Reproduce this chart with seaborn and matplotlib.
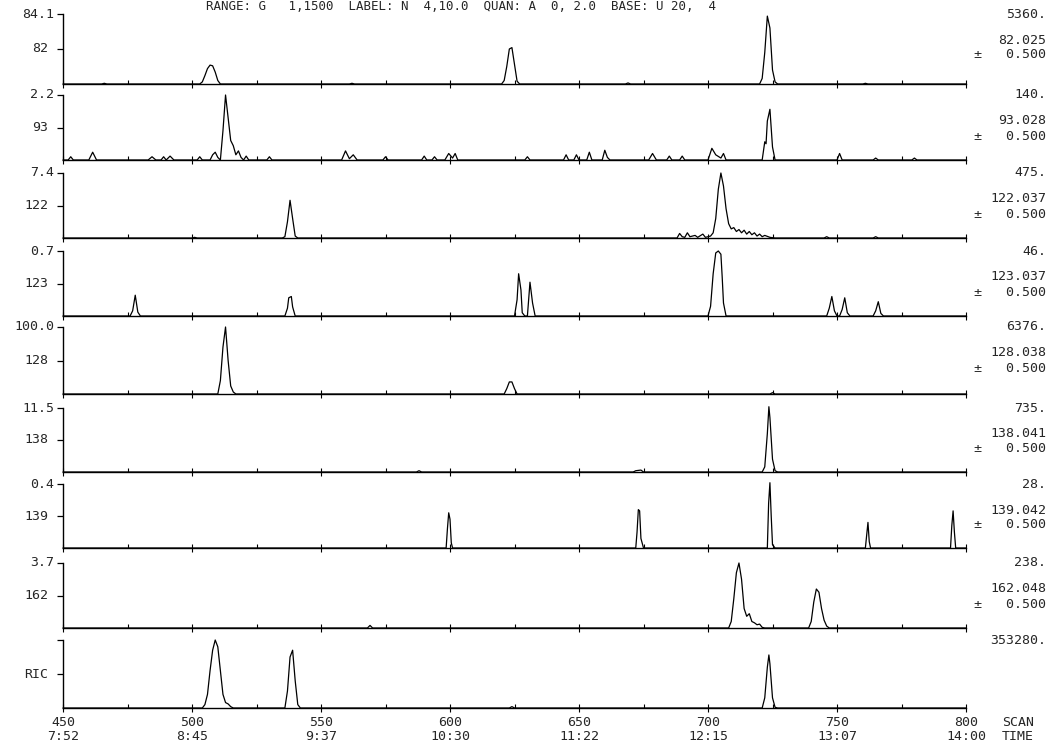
import matplotlib
matplotlib.use("Agg")
import matplotlib.pyplot as plt
from matplotlib.ticker import MultipleLocator
import seaborn as sns

sns.set_style("white")
plt.rcParams['font.family'] = ['DejaVu Sans Mono']
plt.rcParams['font.size'] = 9.5

# eje x: numero de scan y tiempo de retencion
scan_ticks = [450, 500, 550, 600, 650, 700, 750, 800]
time_labels = ["7:52", "8:45", "9:37", "10:30", "11:22", "12:15", "13:07", "14:00"]

# etiquetas de cada cromatograma de masa
ion_labels = ["82", "93", "122", "123", "128", "138", "139", "162", "RIC"]
left_tops = ["84.1", "2.2", "7.4", "0.7", "100.0", "11.5", "0.4", "3.7", ""]
full_scale = ["5360.", "140.", "475.", "46.", "6376.", "735.", "28.", "238.", "353280."]
mass_labels = ["82.025", "93.028", "122.037", "123.037", "128.038", "138.041", "139.042", "162.048", ""]
header = "RANGE: G   1,1500  LABEL: N  4,10.0  QUAN: A  0, 2.0  BASE: U 20,  4"

# trazas (scan, intensidad en % de la escala del panel)
trace_82 = [(450, 0), (465, 0), (466, 1), (467, 0), (503, 0), (504, 3), (505, 12), (506, 22),
            (507, 27), (508, 26), (509, 17), (510, 5), (511, 0), (561, 0), (562, 1), (563, 0),
            (620, 0), (621, 5), (622, 25), (623, 50), (624, 52), (625, 28), (626, 4), (627, 0),
            (668, 0), (669, 1.5), (670, 0), (720, 0), (721, 8), (722, 45), (723, 97), (724, 80),
            (725, 20), (726, 3), (727, 0), (760, 0), (761, 1), (762, 0), (800, 0)]
trace_93 = [(450, 0), (452, 0), (453, 5), (454, 0), (460, 0), (461.5, 12), (463, 0), (483, 0),
            (484.5, 5), (486, 0), (488, 0), (489, 5), (490, 0), (491.5, 6), (493, 0), (502, 0),
            (503, 5), (504, 0), (507, 0), (508, 8), (509, 12), (510, 4), (511, 0), (512, 45),
            (513, 100), (514, 65), (515, 30), (516, 22), (517, 8), (518, 14), (519, 4), (520, 0),
            (521, 6), (522, 0), (529, 0), (530, 5), (531, 0), (558, 0), (559.5, 14), (561, 2),
            (562.5, 8), (564, 0), (574, 0), (575, 5), (576, 0), (589, 0), (590, 6), (591, 0),
            (593, 0), (594, 5), (595, 0), (598, 0), (599.5, 10), (601, 3), (602, 10), (603, 0),
            (629, 0), (630, 5), (631, 0), (644, 0), (645, 8), (646, 0), (648, 0), (649, 8),
            (650, 0), (653, 0), (654, 12), (655, 0), (659, 0), (660, 15), (661, 4), (662, 0),
            (677, 0), (678.5, 10), (680, 0), (684, 0), (685, 6), (686, 0), (689, 0), (690, 6),
            (691, 0), (700, 0), (701.5, 18), (703, 8), (705, 3), (706, 10), (707, 0), (721, 0),
            (722, 28), (722.5, 25), (723, 60), (724, 78), (725, 20), (726, 0), (750, 0),
            (751, 10), (752, 0), (764, 0), (765, 3), (766, 0), (779, 0), (780, 3), (781, 0),
            (800, 0)]
trace_122 = [(450, 0), (500, 0), (501, 1), (502, 0), (535, 0), (536, 2), (537, 25), (538, 58),
             (539, 30), (540, 3), (541, 0), (688, 0), (689, 7), (690, 2), (691, 1), (692, 8),
             (693, 2), (695, 4), (696, 1), (698, 6), (699, 1), (701, 3), (702, 8), (703, 30),
             (704, 75), (705, 100), (706, 80), (707, 45), (708, 22), (709, 14), (710, 16),
             (711, 10), (712, 13), (713, 8), (714, 12), (715, 6), (716, 10), (717, 5), (718, 8),
             (719, 3), (720, 6), (721, 2), (722, 4), (724, 1), (726, 0), (745, 0), (746, 2),
             (747, 0), (764, 0), (765, 2), (766, 0), (800, 0)]
trace_123 = [(450, 0), (476, 0), (477, 8), (478, 32), (479, 6), (480, 0), (536, 0), (537, 12),
             (537.5, 28), (538.5, 30), (539, 14), (540, 0), (625, 0), (626, 25), (626.6, 65),
             (627.5, 40), (628, 5), (629, 0), (630, 0), (631, 52), (632, 20), (633, 0), (700, 0),
             (701, 15), (702, 65), (703, 97), (704, 100), (705, 95), (705.5, 60), (706, 20),
             (707, 0), (746, 0), (747, 12), (748, 30), (749, 8), (750, 0), (751, 0), (752, 10),
             (753, 28), (754, 5), (755, 0), (764, 0), (765, 8), (766, 22), (767, 4), (768, 0),
             (800, 0)]
trace_128 = [(450, 0), (510, 0), (511, 20), (512, 70), (513, 100), (514, 50), (515, 12), (516, 3),
             (517, 0), (621, 0), (622, 8), (623, 18), (624, 18), (625, 8), (626, 0), (724, 0),
             (725, 2), (726, 0), (800, 0)]
trace_138 = [(450, 0), (587, 0), (588, 2), (589, 0), (671, 0), (672, 2), (674, 3), (675, 0),
             (721, 0), (722, 8), (723, 60), (723.6, 102), (724, 85), (725, 20), (726, 2),
             (727, 0), (800, 0)]
trace_139 = [(450, 0), (598.5, 0), (599, 30), (599.5, 55), (600, 45), (600.5, 8), (601, 0),
             (672, 0), (672.5, 25), (673, 60), (673.5, 58), (674, 15), (675, 0), (723, 0),
             (723.5, 70), (724, 102), (724.5, 50), (725, 5), (726, 0), (761, 0), (761.5, 20),
             (762, 40), (762.5, 10), (763, 0), (794, 0), (794.5, 35), (795, 58), (795.5, 25),
             (796, 0), (800, 0)]
trace_162 = [(450, 0), (568, 0), (569, 4), (570, 0), (708, 0), (709, 10), (710, 45), (711, 85),
             (712, 100), (713, 75), (714, 30), (715, 18), (716, 22), (717, 10), (718, 8),
             (719, 5), (720, 6), (721, 1), (722, 0), (739, 0), (740, 10), (741, 40), (742, 60),
             (743, 55), (744, 30), (745, 12), (746, 3), (747, 0), (800, 0)]
trace_ric = [(450, 0), (504, 0), (505, 5), (506, 20), (507, 55), (508, 85), (509, 100),
             (510, 90), (511, 55), (512, 20), (513, 8), (514, 6), (515, 2), (516, 0), (536, 0),
             (537, 25), (538, 75), (539, 85), (540, 40), (541, 5), (542, 0), (623, 0), (624, 2),
             (625, 0), (721, 0), (722, 15), (723, 60), (723.6, 78), (724, 65), (725, 15),
             (726, 1), (727, 0), (800, 0)]

traces = [trace_82, trace_93, trace_122, trace_123, trace_128, trace_138, trace_139, trace_162, trace_ric]

# posicion de cada panel en pixeles (arriba, linea base)
W, H = 1052, 751
panel_px = [(14, 84), (95, 160), (173, 238), (251, 316), (327, 394),
            (408, 472), (484, 548), (563, 628), (640, 708)]
x0_px, x1_px = 63, 966


def fx(px):
    return px / W


def fy(py):
    return 1 - py / H


fig = plt.figure(figsize=(W / 100, H / 100), dpi=100)
fig.text(fx(206), fy(6), header, ha='left', va='center', fontsize=9)

for i, trace in enumerate(traces):
    top, base = panel_px[i]
    ax = fig.add_axes([fx(x0_px), fy(base), (x1_px - x0_px) / W, (base - top) / H])
    xs = [p[0] for p in trace]
    ys = [p[1] for p in trace]
    sns.lineplot(x=xs, y=ys, ax=ax, color='black', linewidth=0.9, estimator=None, sort=False)
    ax.lines[-1].set_clip_on(False)
    ax.set_xlim(450, 800)
    ax.set_ylim(0, 100)
    for s in ['top', 'right']:
        ax.spines[s].set_visible(False)
    for s in ['left', 'bottom']:
        ax.spines[s].set_color('black')
        ax.spines[s].set_linewidth(1)
    ax.set_yticks([50, 100])
    ax.set_yticklabels([])
    ax.tick_params(axis='y', left=True, direction='out', length=4, width=0.9, color='black')
    ax.xaxis.set_major_locator(MultipleLocator(50))
    ax.xaxis.set_minor_locator(MultipleLocator(25))
    ax.tick_params(axis='x', which='both', bottom=True)
    ax.tick_params(axis='x', which='major', direction='inout', length=6, width=0.8, color='black')
    ax.tick_params(axis='x', which='minor', direction='in', length=3, width=0.8, color='black')
    ax.set_xlabel("")
    ax.set_ylabel("")
    if i == len(traces) - 1:
        ax.set_xticks(scan_ticks)
        ax.set_xticklabels([f"{s}\n{t}" for s, t in zip(scan_ticks, time_labels)], linespacing=1.1)
        ax.tick_params(axis='x', which='major', pad=3)
    else:
        ax.set_xticklabels([])

    # textos de la izquierda
    if left_tops[i]:
        fig.text(fx(54), fy(top), left_tops[i], ha='right', va='center')
    fig.text(fx(48), fy((top + base) / 2), ion_labels[i], ha='right', va='center')
    # textos de la derecha
    fig.text(fx(1046), fy(top), full_scale[i], ha='right', va='center')
    if mass_labels[i]:
        fig.text(fx(1046), fy(top + 26), mass_labels[i], ha='right', va='center')
        fig.text(fx(1046), fy(top + 41), "±   0.500", ha='right', va='center')

fig.text(fx(1002), fy(730), "SCAN\nTIME", ha='left', va='center', linespacing=1.1)

plt.savefig("out.png", dpi=100)
